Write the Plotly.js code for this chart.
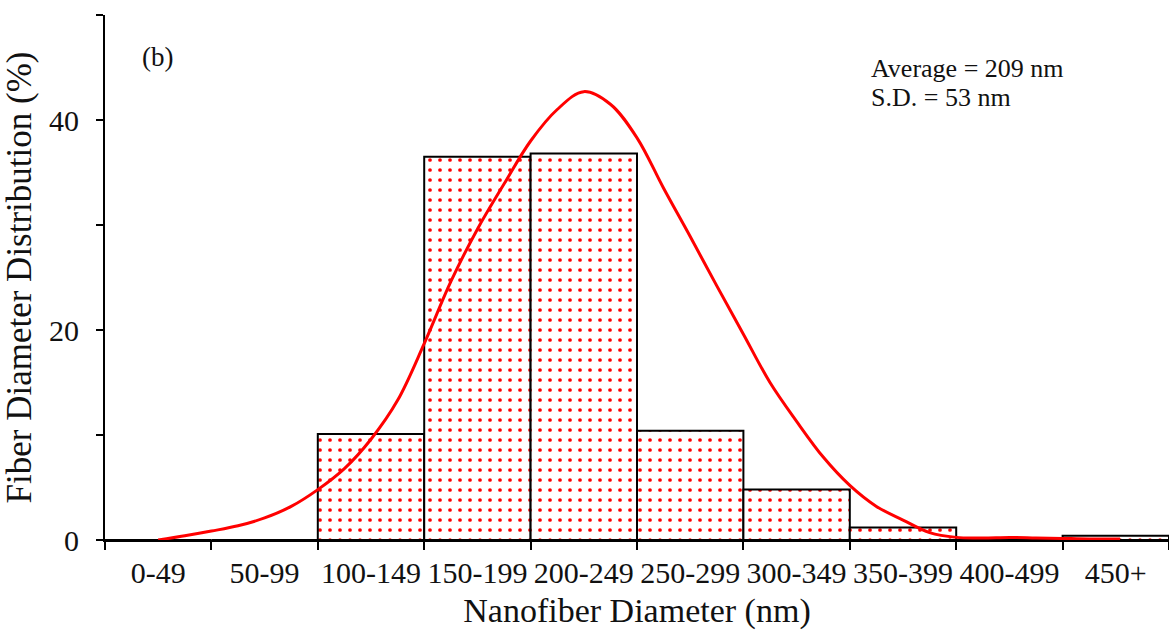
<!DOCTYPE html>
<html>
<head>
<meta charset="utf-8">
<script src="https://cdn.plot.ly/plotly-3.0.1.min.js"></script>
<style>html,body{margin:0;padding:0;background:#fff;}#chart{width:1169px;height:632px;}</style>
</head>
<body>
<div id="chart"></div>
<script>
// Histogram bins and percentages
const categories = ["0-49", "50-99", "100-149", "150-199", "200-249", "250-299", "300-349", "350-399", "400-499", "450+"];
const percentages = [0, 0, 10.1, 36.5, 36.8, 10.4, 4.8, 1.2, 0, 0.4];

// Fitted distribution curve (position in bin units, value in %)
const curveX = [0, 0.25, 0.5, 0.75, 1.0, 1.25, 1.5, 1.75, 2.0, 2.25, 2.5, 2.75, 3.0, 3.25, 3.5, 3.75, 4.0, 4.25, 4.5, 4.75, 5.0, 5.25, 5.5, 5.75, 6.0, 6.25, 6.5, 6.75, 7.0, 7.25, 7.5, 7.75, 8.0, 8.25, 8.5, 8.75, 9.04];
const curveY = [0, 0.4, 0.85, 1.35, 2.1, 3.2, 4.8, 6.8, 9.6, 13.3, 18.7, 24.6, 29.6, 33.9, 38.0, 41.0, 42.7, 41.5, 38.3, 33.5, 28.9, 24.2, 19.6, 15.0, 11.3, 7.9, 5.2, 3.2, 1.9, 0.7, 0.25, 0.2, 0.25, 0.2, 0.15, 0.1, 0.1];

const annoLabel = "(b)";
const statLines = ["Average = 209 nm", "S.D. = 53 nm"];

const FONT = "Liberation Serif, Times New Roman, serif";

const bars = {
  type: "bar",
  x: categories,
  y: percentages,
  xaxis: "x",
  yaxis: "y",
  marker: {
    color: "white",
    line: {color: "black", width: 2},
    pattern: {shape: ".", fgcolor: "red", bgcolor: "white", size: 10, solidity: 0.11, fillmode: "replace"}
  },
  showlegend: false
};

const curve = {
  type: "scatter",
  mode: "lines",
  x: curveX,
  y: curveY,
  xaxis: "x2",
  yaxis: "y",
  line: {color: "#ff0000", width: 3, shape: "spline", smoothing: 1},
  showlegend: false
};

const layout = {
  width: 1169,
  height: 632,
  margin: {l: 105, r: 0, t: 15, b: 92},
  paper_bgcolor: "white",
  plot_bgcolor: "white",
  bargap: 0,
  font: {family: FONT, color: "black"},
  xaxis: {
    type: "category",
    range: [-0.5, 9.5],
    tickson: "boundaries",
    ticks: "outside",
    ticklen: 8,
    tickwidth: 2,
    tickcolor: "black",
    tickangle: 0,
    showline: true,
    linecolor: "black",
    linewidth: 2,
    showgrid: false,
    zeroline: false,
    tickfont: {family: FONT, size: 30, color: "#111"},
    ticklabelstandoff: 5,
    title: {text: "Nanofiber Diameter (nm)", font: {family: FONT, size: 34, color: "#111"}, standoff: 10},
    automargin: false,
    fixedrange: true
  },
  xaxis2: {
    overlaying: "x",
    range: [-0.5, 9.5],
    visible: false,
    showgrid: false,
    zeroline: false,
    fixedrange: true
  },
  yaxis: {
    range: [0, 50],
    dtick: 20,
    tick0: 0,
    ticks: "outside",
    ticklen: 7,
    tickwidth: 2,
    tickcolor: "black",
    minor: {dtick: 10, tick0: 0, ticks: "outside", ticklen: 7, tickwidth: 2, tickcolor: "black", showgrid: false},
    showline: true,
    linecolor: "black",
    linewidth: 2,
    showgrid: false,
    zeroline: false,
    tickfont: {family: FONT, size: 30, color: "#111"},
    ticklabelstandoff: 11,
    title: {text: "Fiber Diameter Distribution (%)", font: {family: FONT, size: 35, color: "#111"}, standoff: 10},
    automargin: false,
    fixedrange: true
  },
  annotations: [
    {text: annoLabel, xref: "paper", yref: "paper", x: 0.033, y: 0.92, xanchor: "left", yanchor: "middle", showarrow: false, font: {family: FONT, size: 27, color: "#111"}},
    {text: statLines[0], xref: "paper", yref: "paper", x: 0.718, y: 0.899, xanchor: "left", yanchor: "middle", align: "left", showarrow: false, font: {family: FONT, size: 26, color: "#111"}},
    {text: statLines[1], xref: "paper", yref: "paper", x: 0.718, y: 0.842, xanchor: "left", yanchor: "middle", align: "left", showarrow: false, font: {family: FONT, size: 26, color: "#111"}}
  ]
};

Plotly.newPlot("chart", [bars, curve], layout, {displayModeBar: false, staticPlot: true});
</script>
</body>
</html>
